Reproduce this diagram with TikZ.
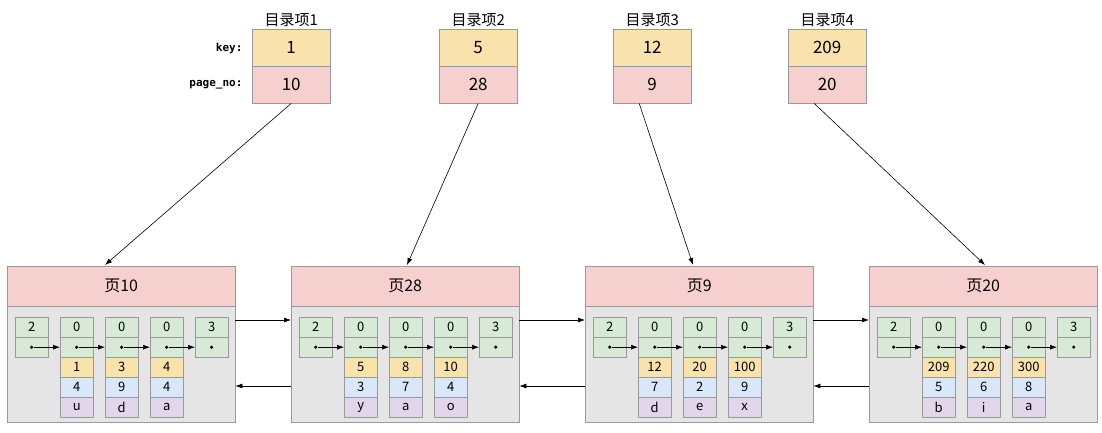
\documentclass[tikz,border=0pt]{standalone}
\usepackage{fontspec}
\setmainfont{Noto Sans CJK SC}
\newfontfamily\monob{DejaVu Sans Mono}
\begin{document}
\begin{tikzpicture}[x=1pt,y=-1pt,
  cellbox/.style={draw=black!40,line width=0.4pt,minimum width=33pt,minimum height=20pt,inner sep=0pt,font=\fontsize{13}{13}\selectfont,anchor=north west},
  dirbox/.style={draw=black!40,minimum width=78pt,minimum height=37pt,inner sep=0pt,font=\fontsize{17}{17}\selectfont,anchor=north west},
  lnk/.style={-{Latex[length=7pt,width=5pt]},line width=0.6pt},
  dot/.style={circle,fill=black,inner sep=0pt,minimum size=3.5pt}]
\usetikzlibrary{arrows.meta}
\definecolor{cy}{HTML}{FAE2AC}\definecolor{cp}{HTML}{F6D0CF}
\definecolor{cg}{HTML}{D7EAD5}\definecolor{cb}{HTML}{D9E7FB}
\definecolor{cv}{HTML}{E2D6EA}\definecolor{cgr}{HTML}{E5E5E5}
\useasboundingbox[fill=white] (0,0) rectangle (1102,433);
% directory entries
\node[font=\monob\bfseries\fontsize{11}{11}\selectfont,anchor=east] (kl) at (246,48) {key:};
\node[font=\monob\bfseries\fontsize{11}{11}\selectfont,anchor=east] (pl) at (246,85) {page\_no:};
\foreach \i/\x/\k/\p in {1/252/1/10,2/439/5/28,3/613/12/9,4/788/209/20}{
  \node[dirbox,fill=cy] (k\i) at (\x,29) {\k};
  \node[dirbox,fill=cp] (p\i) at (\x,66) {\p};
  \node[font=\fontsize{15}{15}\selectfont,anchor=south,inner sep=2pt] (t\i) at (k\i.north) {目录项\i};
}
% pages
\foreach \i/\x/\pn/\a/\b/\c/\d/\e/\f/\g/\h/\j in {
  1/7/10/1/4/u/3/9/d/4/4/a,
  2/291/28/5/3/y/8/7/a/10/4/o,
  3/585/9/12/7/d/20/2/e/100/9/x,
  4/869/20/209/5/b/220/6/i/300/8/a}{
  \node[draw=black!40,fill=cp,minimum width=228pt,minimum height=40pt,anchor=north west,inner sep=0pt,font=\fontsize{16}{16}\selectfont] (h\i) at (\x,266) {页\pn};
  \node[draw=black!40,fill=cgr,minimum width=228pt,minimum height=116pt,anchor=north west,inner sep=0pt] (b\i) at (\x,306) {};
  \foreach \n/\v in {0/2,1/0,2/0,3/0,4/3}{
    \node[cellbox,fill=cg] (u\i\n) at (\x+8+45*\n,317) {\v};
    \node[cellbox,fill=cg] (l\i\n) at (\x+8+45*\n,337) {};
    \node[dot] (d\i\n) at (l\i\n.center) {};
  }
  \foreach \n/\r/\s/\t in {1/\a/\b/\c,2/\d/\e/\f,3/\g/\h/\j}{
    \node[cellbox,fill=cy] (y\i\n) at (\x+8+45*\n,357) {\r};
    \node[cellbox,fill=cb] (z\i\n) at (\x+8+45*\n,377) {\s};
    \node[cellbox,fill=cv] (v\i\n) at (\x+8+45*\n,397) {\t};
  }
  \foreach \n/\m in {0/1,1/2,2/3,3/4}{
    \draw[lnk] (d\i\n) -- (l\i\m.west);
  }
}
% page links
\foreach \i/\j in {1/2,2/3,3/4}{
  \draw[lnk] (b\i.east|-0,320) -- (b\j.west|-0,320);
  \draw[lnk] (b\j.west|-0,386) -- (b\i.east|-0,386);
}
% directory pointers
\draw[lnk] (p1.south) -- (105,265);
\draw[lnk] (p2.south) -- (407,265);
\draw[lnk] ([xshift=-13pt]p3.south) -- (693,265);
\draw[lnk] ([xshift=-13pt]p4.south) -- (985,265);
\end{tikzpicture}
\end{document}
